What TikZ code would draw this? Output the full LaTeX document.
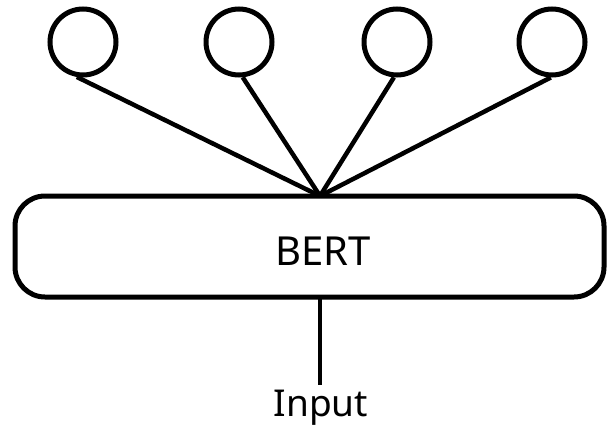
\documentclass[tikz,border=0pt]{standalone}
\usepackage{fontspec}
\setmainfont{Noto Sans}
\begin{document}
\begin{tikzpicture}[x=1pt,y=-1pt,
  outnode/.style={circle,draw,line width=5pt,minimum size=66pt,inner sep=0pt},
  model/.style={draw,line width=5pt,rounded corners=30pt,minimum width=589pt,minimum height=101pt,inner sep=0pt},
  conn/.style={line width=4.5pt}]
\useasboundingbox (0,0) rectangle (607,434);
\node[outnode] (c1) at (83,42) {};
\node[outnode] (c2) at (239,42) {};
\node[outnode] (c3) at (397,42) {};
\node[outnode] (c4) at (552,42) {};
\node[model] (bert) at (309.5,246.5) {};
\node[font=\fontsize{40}{44}\selectfont, inner sep=0pt] (bertlabel) at (323,251) {BERT};
\coordinate (top) at (320,196);
\coordinate (bot) at (320,297);
\node[font=\fontsize{37}{40}\selectfont, inner sep=0pt, anchor=base] (input) at (321,416) {Input};
\coordinate (inend) at (320,385);
\draw[conn] (c1.260) -- (top);
\draw[conn] (c2.276) -- (top);
\draw[conn] (c3.265) -- (top);
\draw[conn] (c4.268) -- (top);
\draw[conn] (bot) -- (inend);
\end{tikzpicture}
\end{document}
